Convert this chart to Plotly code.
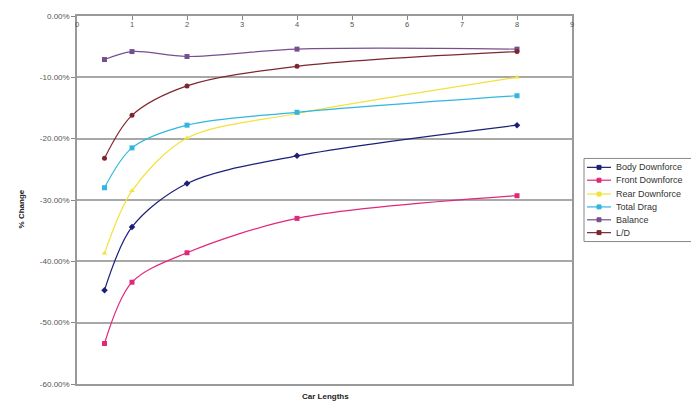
import plotly.graph_objects as go

# Car lengths behind the lead car
car_lengths = [0.5, 1, 2, 4, 8]

# Percentage change of each quantity
body_downforce = [-44.7, -34.4, -27.3, -22.8, -17.8]
front_downforce = [-53.4, -43.4, -38.6, -33.0, -29.3]
rear_downforce = [-38.7, -28.5, -19.9, -15.9, -10.0]
total_drag = [-28.0, -21.5, -17.8, -15.7, -13.0]
balance = [-7.1, -5.8, -6.6, -5.4, -5.4]
lift_drag = [-23.2, -16.2, -11.4, -8.2, -5.8]

series_names = ["Body Downforce", "Front Downforce", "Rear Downforce",
                "Total Drag", "Balance", "L/D"]
series_values = [body_downforce, front_downforce, rear_downforce,
                 total_drag, balance, lift_drag]
series_colors = ["#1c1f78", "#e0287a", "#f2e23a", "#2fb6e2", "#76508e", "#7e2630"]
series_symbols = ["diamond", "square", "triangle-up", "square", "square", "circle"]

y_ticks = [0, -10, -20, -30, -40, -50, -60]
x_ticks = list(range(0, 10))

W, H = 691, 414
L, R, T, B = 77, 572, 12, 384  # plot area in pixels

fig = go.Figure()
for name, vals, col, sym in zip(series_names, series_values, series_colors, series_symbols):
    fig.add_trace(go.Scatter(
        x=car_lengths, y=vals, name=name, mode="lines+markers",
        line=dict(color=col, width=1.2, shape="spline", smoothing=0.9),
        marker=dict(color=col, size=5, symbol=sym),
        showlegend=False, cliponaxis=False,
    ))

font = "Liberation Sans, Arial, sans-serif"

fig.update_layout(
    width=W, height=H,
    margin=dict(l=L, r=W - R, t=T, b=H - B),
    paper_bgcolor="white", plot_bgcolor="white",
    font=dict(family=font, size=7, color="#333"),
    showlegend=False,
)

fig.update_xaxes(
    range=[0, 9], tickvals=x_ticks, side="top",
    ticks="inside", ticklen=4, tickcolor="#888",
    ticklabelposition="inside", ticklabeloverflow="allow",
    showline=True, linecolor="#999", linewidth=1.5, mirror=True,
    showgrid=False, zeroline=False,
    tickfont=dict(size=7.5, color="#555"),
)
fig.update_yaxes(
    range=[-60, 0], tickvals=y_ticks,
    ticktext=[f"{v:.2f}%" for v in y_ticks],
    ticks="outside", ticklen=4, tickcolor="#888",
    ticklabeloverflow="allow",
    showline=True, linecolor="#999", linewidth=1.5, mirror=True,
    showgrid=True, gridcolor="#a8a8a8", gridwidth=1.5,
    zeroline=False,
    tickfont=dict(size=8, color="#555"),
)

def px_x(p):
    return (p - L) / (R - L)

def px_y(p):
    return (B - p) / (B - T)

annotations = [
    dict(text="<b>Car Lengths</b>", x=px_x(325), y=px_y(403), xref="paper", yref="paper",
         showarrow=False, font=dict(size=8, color="#222")),
    dict(text="<b>% Change</b>", x=px_x(15), y=px_y(207), xref="paper", yref="paper",
         showarrow=False, textangle=-90, font=dict(size=8, color="#222")),
]
shapes = []

# Legend box, partly running past the right edge
leg_left, leg_top, leg_bottom = 584, 156, 240
shapes.append(dict(type="rect", xref="paper", yref="paper",
                   x0=px_x(leg_left), x1=px_x(leg_left + 140),
                   y0=px_y(leg_bottom), y1=px_y(leg_top),
                   line=dict(color="#888", width=1), fillcolor="white", layer="above"))
row_y = [165, 178, 192, 205, 218, 231]
for name, col, ry in zip(series_names, series_colors, row_y):
    shapes.append(dict(type="line", xref="paper", yref="paper",
                       x0=px_x(587), x1=px_x(611), y0=px_y(ry), y1=px_y(ry),
                       line=dict(color=col, width=1.2), layer="above"))
    shapes.append(dict(type="rect", xref="paper", yref="paper",
                       x0=px_x(597), x1=px_x(601), y0=px_y(ry + 2), y1=px_y(ry - 2),
                       line=dict(color=col, width=1), fillcolor=col, layer="above"))
    annotations.append(dict(text=name, x=px_x(614), y=px_y(ry), xref="paper", yref="paper",
                            xanchor="left", yanchor="middle", showarrow=False,
                            font=dict(size=9, color="#333")))

fig.update_layout(annotations=annotations, shapes=shapes)

fig.write_html("out.html")
